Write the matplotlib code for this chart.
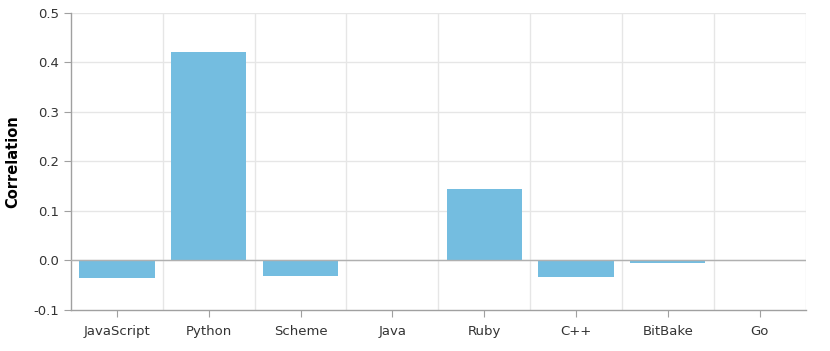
import numpy as np
import matplotlib
matplotlib.use("Agg")
import matplotlib.pyplot as plt

languages = ["JavaScript", "Python", "Scheme", "Java", "Ruby", "C++", "BitBake", "Go"]
correlation = [-0.036, 0.422, -0.032, 0.0, 0.145, -0.034, -0.005, 0.0]
y_ticks = [-0.1, 0.0, 0.1, 0.2, 0.3, 0.4, 0.5]

fig = plt.figure(figsize=(8.3, 3.51), dpi=100)
ax = fig.add_axes([0.0855, 0.117, 0.885, 0.846])

x = np.arange(len(languages))
ax.bar(x, correlation, width=0.82, color="#74bde0", zorder=2)

ax.set_xlim(-0.5, len(languages) - 0.5)
ax.set_ylim(-0.1, 0.5)
ax.set_yticks(y_ticks)
ax.set_yticklabels([f"{v:.1f}" for v in y_ticks])
ax.set_xticks(x)
ax.set_xticklabels(languages)

# grid: horizontal at ticks, vertical between categories
for v in y_ticks[1:]:
    ax.axhline(v, color="#e6e6e6", lw=1, zorder=0)
for b in np.arange(0.5, len(languages) - 0.5, 1):
    ax.axvline(b, color="#e6e6e6", lw=1, zorder=0)
ax.axvline(len(languages) - 0.5, color="#e6e6e6", lw=1, zorder=0)
ax.axhline(0, color="#b0b0b0", lw=1, zorder=3)

for side in ["top", "right"]:
    ax.spines[side].set_visible(False)
for side in ["left", "bottom"]:
    ax.spines[side].set_color("#a0a0a0")
    ax.spines[side].set_linewidth(1)

ax.tick_params(axis="both", colors="#a0a0a0", labelcolor="#333333", labelsize=9.5, length=5)
ax.tick_params(axis="x", pad=6)
ax.set_ylabel("Correlation", fontsize=10.5, fontweight="bold")
ax.yaxis.set_label_coords(-0.069, 0.5)

fig.savefig("out.png", dpi=100)
